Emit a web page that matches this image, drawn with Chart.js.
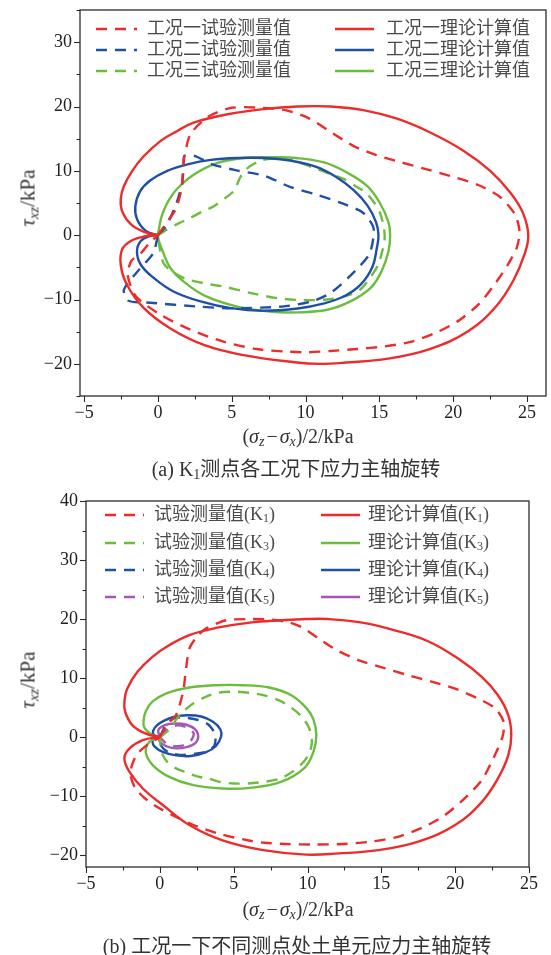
<!DOCTYPE html>
<html>
<head>
<meta charset="utf-8">
<script src="https://cdn.jsdelivr.net/npm/chart.js@4.4.1/dist/chart.umd.min.js"></script>
<style>
  body { margin:0; background:#fff; }
  #page { position:relative; width:551px; height:955px; overflow:hidden; }
  .wrap { position:absolute; left:0; width:551px; }
  .txt { position:absolute; white-space:nowrap; transform:translate(-50%,-50%);
         font-family:"Liberation Serif","Noto Sans CJK SC",serif; color:#333; }
  .txt i { font-style:italic; }
  .txt sub { font-size:70%; vertical-align:-0.25em; line-height:0; }
  .txt .op { padding:0 2px; }
  .rot { transform:translate(-50%,-50%) rotate(-90deg); }
</style>
</head>
<body>
<div id="page">
  <div class="wrap" style="top:0;height:480px"><canvas id="chartA" width="551" height="480"></canvas></div>
  <div class="wrap" style="top:480px;height:475px"><canvas id="chartB" width="551" height="475"></canvas></div>

  <div class="txt rot" style="left:28px;top:198px;font-size:21px"><i>τ</i><sub><i>xz</i></sub>/kPa</div>
  <div class="txt" style="left:298px;top:436px;font-size:20px">(<i>σ</i><sub><i>z</i></sub><span class="op">−</span><i>σ</i><sub><i>x</i></sub>)/2/kPa</div>
  <div class="txt" style="left:296px;top:467px;font-size:20px">(a) K<sub>1</sub>测点各工况下应力主轴旋转</div>

  <div class="txt rot" style="left:28px;top:680px;font-size:21px"><i>τ</i><sub><i>xz</i></sub>/kPa</div>
  <div class="txt" style="left:298px;top:909px;font-size:20px">(<i>σ</i><sub><i>z</i></sub><span class="op">−</span><i>σ</i><sub><i>x</i></sub>)/2/kPa</div>
  <div class="txt" style="left:297px;top:944px;font-size:20px">(b) 工况一下不同测点处土单元应力主轴旋转</div>
</div>

<script>
// ---------- (a) K1测点各工况 ----------
var aXMin = -5.28, aXMax = 26.29;

var aRedExX = [0, 0.6, 1.2, 1.6, 1.7, 1.8, 2.2, 3.4, 5.0, 7.0, 8.7, 10.2, 11.8, 13.3, 14.8, 16.5, 18.1, 19.8, 21.7, 23.2, 24.2, 24.5, 24.3, 23.7, 22.7, 21.7, 20.3, 18.7, 17.1, 15.3, 13.5, 11.7, 10.1, 8.7, 6.7, 4.5, 2.2, 0.2, -1.5, -2.05, -1.8, -1.15, -0.6, 0];
var aRedExY = [0, 2.0, 4.0, 7.2, 10.3, 12.3, 15.7, 18.4, 19.8, 19.8, 19.4, 18.2, 15.9, 13.8, 12.45, 11.3, 10.3, 9.2, 7.8, 5.9, 3.2, 0.5, -2.0, -4.6, -8.0, -10.8, -13.4, -15.3, -16.6, -17.3, -17.7, -18.0, -18.2, -18.1, -17.7, -16.6, -14.7, -12.4, -9.5, -6.2, -4.0, -2.8, -1.3, 0];

var aRedThX = [0, -0.95, -1.84, -2.42, -2.52, -2.31, -1.74, -0.95, 0.21, 1.32, 2.42, 4.73, 7.15, 9.47, 11.68, 13.99, 16.2, 18.41, 20.72, 22.51, 23.88, 24.72, 25.09, 24.83, 24.09, 22.93, 21.04, 18.41, 15.57, 12.73, 10.94, 9.26, 5.79, 3.16, 0.84, -0.95, -2.1, -2.52, -2.42, -1.84, -0.95, 0];
var aRedThY = [0, 0.5, 1.7, 3.7, 5.6, 7.6, 10.0, 12.3, 14.7, 16.2, 17.5, 18.8, 19.6, 20.0, 20.0, 19.4, 18.1, 16.0, 13.1, 10.0, 6.6, 3.5, 0, -3.0, -7.0, -11.0, -14.9, -17.7, -19.2, -19.8, -20.0, -19.75, -18.65, -17.1, -14.5, -11.35, -7.7, -4.6, -2.2, -0.9, -0.2, 0];

var aBlueExX = [0, 0.58, 1.26, 1.63, 1.74, 1.79, 2.52, 3.68, 5.26, 7.26, 8.94, 10.73, 12.31, 13.89, 14.57, 14.62, 14.31, 13.04, 11.68, 10.41, 8.42, 4.84, 2.74, -0.53, -2.0, -2.31, -1.37, -0.32, 0];
var aBlueExY = [0, 1.5, 5.0, 8.0, 10.5, 12.3, 12.3, 11.0, 10.1, 9.2, 7.5, 6.3, 5.1, 3.5, 1.4, 0, -3.0, -6.3, -9.0, -10.3, -11.1, -11.35, -11.1, -10.5, -10.2, -8.5, -5.6, -2.8, 0];

var aBlueThX = [0, -0.84, -1.42, -1.53, -1.21, -0.53, 0.63, 2.0, 3.58, 5.37, 7.15, 8.94, 10.73, 12.1, 13.26, 14.2, 14.78, 14.94, 14.83, 14.52, 13.73, 12.62, 11.26, 9.47, 7.15, 4.94, 2.89, 1.05, -0.26, -1.16, -1.42, -1.16, -0.58, 0];
var aBlueThY = [0, 0.7, 2.5, 4.5, 6.8, 8.5, 10.0, 11.0, 11.7, 12.0, 12.0, 11.6, 10.6, 9.0, 7.0, 4.6, 2.0, 0, -2.0, -5.0, -7.7, -9.5, -10.6, -11.4, -11.75, -11.35, -10.3, -8.75, -6.7, -4.6, -2.5, -0.9, -0.15, 0];

var aGreenExX = [0, 0.63, 1.37, 2.21, 2.95, 3.79, 4.52, 5.15, 5.58, 6.0, 6.84, 7.68, 8.94, 10.41, 11.68, 12.62, 13.36, 14.1, 14.73, 15.04, 15.31, 15.36, 15.25, 14.94, 14.41, 13.68, 12.83, 11.47, 9.78, 8.1, 6.31, 4.47, 3.16, 1.89, 0.84, 0.37, 0.16, 0.05, 0];
var aGreenExY = [0, 0.9, 1.8, 2.7, 3.6, 4.5, 5.7, 6.9, 9.0, 10.3, 11.5, 11.9, 11.7, 10.6, 9.5, 8.7, 7.65, 6.6, 4.8, 3.5, 1.2, -0.7, -2.0, -4.5, -6.5, -8.5, -9.4, -10.0, -10.1, -9.8, -9.0, -8.0, -7.5, -6.8, -5.5, -4.3, -2.5, -1.0, 0];

var aGreenThX = [0, 0.11, 0.26, 0.63, 1.26, 2.42, 4.0, 5.79, 7.68, 9.36, 11.26, 12.83, 14.2, 15.04, 15.62, 15.73, 15.62, 15.15, 14.41, 13.04, 11.47, 9.47, 7.68, 5.37, 3.16, 1.79, 0.84, 0.32, 0.05, 0];
var aGreenThY = [0, 1.5, 3.0, 5.0, 7.1, 9.4, 11.2, 12.0, 12.1, 12.0, 11.3, 9.7, 7.6, 5.0, 2.0, 0, -2.5, -5.6, -8.2, -10.3, -11.6, -12.0, -11.9, -11.1, -9.4, -7.3, -5.1, -2.5, -0.8, 0];

var aLabels = ["工况一试验测量值", "工况一理论计算值", "工况二试验测量值", "工况二理论计算值", "工况三试验测量值", "工况三理论计算值"];

// ---------- (b) 工况一不同测点 ----------
var bXMin = -5, bXMax = 25;

var bRedExX = [0, 0.6, 1.05, 1.35, 1.6, 1.75, 2.0, 2.6, 3.2, 4.5, 6.0, 7.6, 8.8, 9.7, 10.7, 12.0, 13.5, 15.2, 16.8, 18.4, 19.9, 21.5, 22.7, 23.3, 23.2, 22.6, 21.8, 20.5, 19.2, 17.8, 16.1, 14.3, 12.4, 10.5, 8.5, 7.1, 6.2, 4.2, 2.2, 0, -1.0, -1.7, -2.0, -1.6, -0.9, 0];
var bRedExY = [0, 2.5, 3.5, 5.5, 8.0, 11.0, 15.0, 17.3, 18.5, 19.8, 20.0, 19.9, 19.4, 18.5, 16.8, 14.7, 13.0, 11.7, 10.5, 9.4, 8.3, 6.6, 4.9, 2.5, 0, -3.5, -7.3, -10.7, -13.4, -15.3, -16.9, -17.7, -18.1, -18.2, -18.1, -17.9, -17.6, -16.5, -14.8, -12.1, -10.4, -8.5, -6.0, -3.1, -1.4, 0];

var bRedThX = [0, -0.95, -1.85, -2.35, -2.4, -2.2, -1.5, -0.5, 0.65, 2.0, 3.8, 6.1, 8.3, 9.9, 11.4, 13.7, 15.9, 18.2, 20.2, 21.8, 22.9, 23.6, 23.8, 23.6, 22.9, 21.8, 20.0, 17.5, 14.8, 12.1, 9.9, 7.0, 4.25, 2.0, 0.2, -1.15, -2.05, -2.4, -2.05, -1.15, 0];
var bRedThY = [0, 0.6, 2.0, 4.3, 6.0, 8.25, 11.1, 13.6, 15.6, 17.3, 18.5, 19.4, 19.8, 20.0, 20.0, 19.4, 18.1, 16.2, 13.3, 10.2, 7.1, 3.7, 0.3, -3.05, -7.0, -11.0, -14.9, -17.7, -19.15, -19.7, -19.9, -19.15, -17.5, -14.9, -11.5, -8.7, -5.9, -3.6, -1.9, -0.5, 0];

var bGreenExX = [0, 0.6, 1.2, 1.6, 2.3, 3.0, 3.9, 5.0, 6.1, 7.2, 8.2, 8.9, 9.6, 10.1, 10.3, 10.15, 9.7, 9.0, 8.2, 7.0, 6.0, 5.0, 4.1, 3.3, 2.6, 1.7, 1.1, 0.5, 0.2, 0.05, 0];
var bGreenExY = [0, 1.2, 3.3, 4.4, 5.8, 6.7, 7.5, 7.7, 7.5, 7.0, 6.1, 5.0, 3.5, 1.6, -0.6, -2.6, -4.3, -5.8, -7.0, -7.6, -7.85, -7.85, -7.6, -7.0, -6.7, -5.9, -5.3, -4.2, -3.0, -1.5, 0];

var bGreenThX = [0, -0.6, -1.05, -1.1, -0.95, -0.5, 0.45, 2.0, 3.8, 5.6, 7.4, 8.9, 9.9, 10.4, 10.6, 10.4, 9.8, 8.2, 6.1, 4.25, 2.2, 0.6, -0.5, -0.95, -0.7, 0];
var bGreenThY = [0, 0.5, 1.6, 2.8, 4.4, 6.0, 7.4, 8.4, 8.8, 8.8, 8.4, 7.1, 5.0, 3.0, 0.3, -2.5, -5.2, -7.6, -8.6, -8.7, -8.1, -6.7, -4.7, -2.5, -0.8, 0];

var bBlueExX = [0, 0.4, 1.0, 1.7, 2.6, 3.3, 3.75, 3.7, 3.2, 2.4, 1.4, 0.6, 0.1, 0];
var bBlueExY = [0, 2.0, 3.2, 3.3, 2.9, 2.1, 0.5, -1.4, -2.4, -2.8, -3.0, -2.6, -1.5, 0];

var bBlueThX = [0, -0.4, -0.45, -0.2, 0.3, 1.0, 1.8, 2.8, 3.6, 4.1, 4.15, 3.8, 3.1, 2.1, 1.1, 0.2, -0.35, -0.5, -0.35, 0];
var bBlueThY = [0, 0.4, 1.1, 2.0, 2.8, 3.45, 3.7, 3.5, 2.6, 1.3, 0.1, -1.5, -2.6, -3.2, -3.1, -2.5, -1.6, -0.7, -0.2, 0];

var bPurpleExX = [0, 0.6, 1.2, 1.9, 2.3, 2.1, 1.6, 0.9, 0.4, 0];
var bPurpleExY = [0, 1.5, 2.0, 1.6, 0.6, -0.6, -1.4, -1.5, -1.0, 0];

var bPurpleThX = [0, -0.1, 0.3, 1.0, 1.8, 2.4, 2.6, 2.4, 1.8, 1.1, 0.4, -0.05, 0];
var bPurpleThY = [0, 1.2, 2.0, 2.3, 2.1, 1.3, 0.1, -1.0, -1.7, -1.9, -1.5, -0.6, 0];

var bLabels = ["试验测量值(K_1)", "理论计算值(K_1)", "试验测量值(K_3)", "理论计算值(K_3)",
               "试验测量值(K_4)", "理论计算值(K_4)", "试验测量值(K_5)", "理论计算值(K_5)"];

// ---------- styles ----------
var RED = "#EE2B2B", BLUE = "#1F50A6", GREEN = "#6CBD3E", PURPLE = "#A558B4";
var DASH = [11, 8];
var FONT = '"Liberation Serif","Noto Sans CJK SC",serif';

function pts(xs, ys){
  var out = [];
  for (var i=0;i<xs.length;i++) out.push({ x: xs[i], y: ys[i] });
  return out;
}
function ds(label, xs, ys, color, dashed){
  return {
    label: label,
    data: pts(xs, ys),
    borderColor: color,
    backgroundColor: color,
    borderWidth: 2.4,
    borderDash: dashed ? DASH : [],
    showLine: true,
    pointRadius: 0,
    tension: dashed ? 0.25 : 0.4,
    fill: false
  };
}
function numLabel(v){
  return v < 0 ? "\u2212" + (-v) : String(v);
}

// Rahmen + Haupt/Nebenstriche
var frameTicks = {
  id: "frameTicks",
  afterDraw: function(chart){
    var ctx = chart.ctx, a = chart.chartArea;
    var xs = chart.scales.x, ys = chart.scales.y;
    ctx.save();
    ctx.strokeStyle = "#2b2b2b";
    ctx.lineWidth = 1.3;
    ctx.strokeRect(a.left, a.top, a.right - a.left, a.bottom - a.top);
    ctx.lineWidth = 1.1;
    xs.ticks.forEach(function(t){
      var px = Math.round(xs.getPixelForValue(t.value)) + 0.5;
      var len = Math.abs(t.value % 5) < 1e-6 ? 6 : 3.5;
      ctx.beginPath(); ctx.moveTo(px, a.bottom); ctx.lineTo(px, a.bottom + len); ctx.stroke();
    });
    ys.ticks.forEach(function(t){
      var py = Math.round(ys.getPixelForValue(t.value)) + 0.5;
      var len = Math.abs(t.value % 10) < 1e-6 ? 6 : 3.5;
      ctx.beginPath(); ctx.moveTo(a.left, py); ctx.lineTo(a.left - len, py); ctx.stroke();
    });
    ctx.restore();
  }
};

// Legende im Plotbereich, zwei Spalten
var lineLegend = {
  id: "lineLegend",
  afterDraw: function(chart, args, opts){
    var ctx = chart.ctx;
    ctx.save();
    ctx.textBaseline = "middle";
    chart.data.datasets.forEach(function(d, i){
      var col = i % 2, row = Math.floor(i / 2);
      var c = opts.cols[col], y = opts.rows[row];
      ctx.strokeStyle = d.borderColor;
      ctx.lineWidth = 2.4;
      ctx.setLineDash(d.borderDash);
      ctx.beginPath(); ctx.moveTo(c[0], y); ctx.lineTo(c[1], y); ctx.stroke();
      ctx.setLineDash([]);
      ctx.fillStyle = "#4a4a4a";
      var x = c[2];
      var parts = d.label.split("_");
      for (var p=0;p<parts.length;p++){
        var s = parts[p];
        if (p > 0){
          ctx.font = "12px " + FONT;
          ctx.fillText(s.charAt(0), x, y + 4);
          x += ctx.measureText(s.charAt(0)).width;
          s = s.slice(1);
        }
        ctx.font = "18px " + FONT;
        ctx.fillText(s, x, y);
        x += ctx.measureText(s).width;
      }
    });
    ctx.restore();
  }
};

function makeOptions(cfg){
  return {
    responsive: false,
    animation: false,
    devicePixelRatio: 1,
    layout: { padding: { left: 0, right: cfg.padRight, top: cfg.padTop, bottom: 0 } },
    plugins: {
      legend: { display: false },
      tooltip: { enabled: false },
      lineLegend: { cols: cfg.cols, rows: cfg.rows }
    },
    scales: {
      x: {
        type: "linear", min: cfg.xMin, max: cfg.xMax,
        grid: { display: false, drawTicks: false },
        border: { display: false },
        ticks: {
          stepSize: 2.5, includeBounds: false, autoSkip: false, maxRotation: 0, padding: 6,
          color: "#222", font: { family: FONT, size: 18 },
          callback: function(v){ return Math.abs(v % 5) < 1e-6 ? numLabel(v) : ""; }
        },
        afterFit: function(s){ s.height = cfg.xHeight; s.paddingLeft = 0; s.paddingRight = 0; }
      },
      y: {
        type: "linear", min: cfg.yMin, max: cfg.yMax,
        grid: { display: false, drawTicks: false },
        border: { display: false },
        ticks: {
          stepSize: 5, includeBounds: false, autoSkip: false, padding: 8,
          color: "#222", font: { family: FONT, size: 18 },
          callback: function(v){ return Math.abs(v % 10) < 1e-6 ? numLabel(v) : ""; }
        },
        afterFit: function(s){ s.width = cfg.yWidth; s.paddingTop = 0; s.paddingBottom = 0; }
      }
    }
  };
}

new Chart(document.getElementById("chartA"), {
  type: "scatter",
  data: {
    datasets: [
      ds(aLabels[0], aRedExX, aRedExY, RED, true),
      ds(aLabels[1], aRedThX, aRedThY, RED, false),
      ds(aLabels[2], aBlueExX, aBlueExY, BLUE, true),
      ds(aLabels[3], aBlueThX, aBlueThY, BLUE, false),
      ds(aLabels[4], aGreenExX, aGreenExY, GREEN, true),
      ds(aLabels[5], aGreenThX, aGreenThY, GREEN, false)
    ]
  },
  options: makeOptions({
    padRight: 5, padTop: 10, xHeight: 84, yWidth: 80,
    xMin: aXMin, xMax: aXMax, yMin: -25, yMax: 35,
    cols: [[96, 137, 147], [335, 374, 386]],
    rows: [29, 50, 71]
  }),
  plugins: [frameTicks, lineLegend]
});

new Chart(document.getElementById("chartB"), {
  type: "scatter",
  data: {
    datasets: [
      ds(bLabels[0], bRedExX, bRedExY, RED, true),
      ds(bLabels[1], bRedThX, bRedThY, RED, false),
      ds(bLabels[2], bGreenExX, bGreenExY, GREEN, true),
      ds(bLabels[3], bGreenThX, bGreenThY, GREEN, false),
      ds(bLabels[4], bBlueExX, bBlueExY, BLUE, true),
      ds(bLabels[5], bBlueThX, bBlueThY, BLUE, false),
      ds(bLabels[6], bPurpleExX, bPurpleExY, PURPLE, true),
      ds(bLabels[7], bPurpleThX, bPurpleThY, PURPLE, false)
    ]
  },
  options: makeOptions({
    padRight: 22, padTop: 21, xHeight: 88, yWidth: 86,
    xMin: bXMin, xMax: bXMax, yMin: -22, yMax: 40,
    cols: [[105, 144, 154], [321, 360, 368]],
    rows: [35, 63, 90, 117]
  }),
  plugins: [frameTicks, lineLegend]
});
</script>
</body>
</html>
